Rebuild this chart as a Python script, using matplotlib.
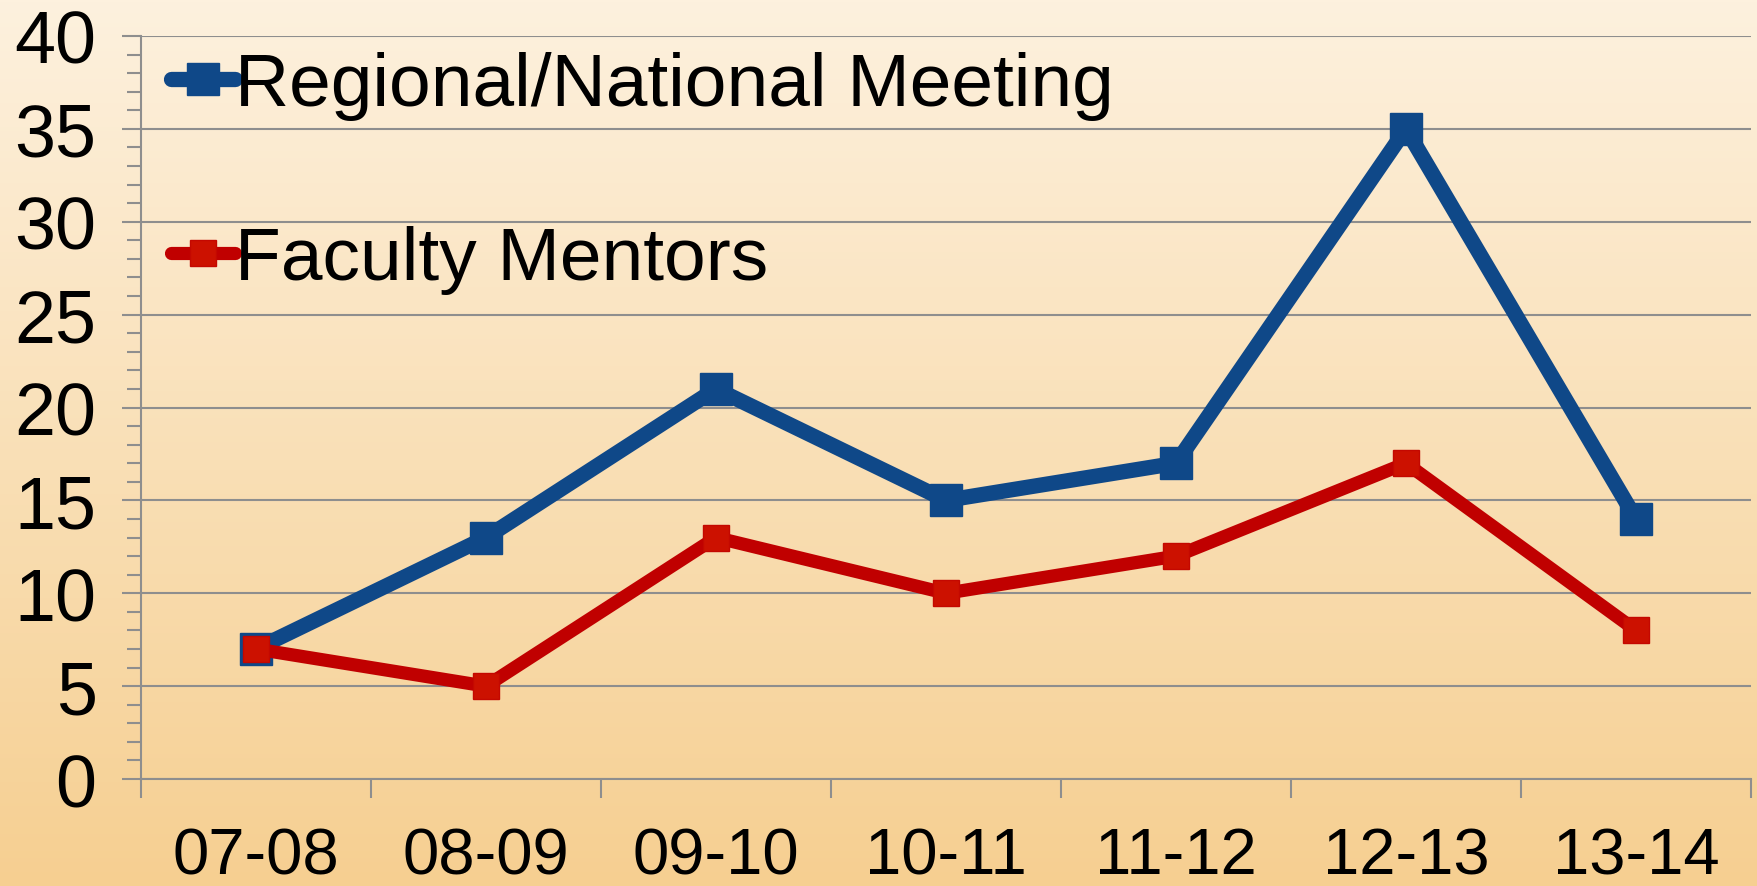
import numpy as np
import matplotlib
matplotlib.use("Agg")
import matplotlib.pyplot as plt
from matplotlib.ticker import MultipleLocator, FixedLocator

plt.rcParams['font.family'] = ['Liberation Sans', 'DejaVu Sans']

years = ["07-08", "08-09", "09-10", "10-11", "11-12", "12-13", "13-14"]
regional = [7, 13, 21, 15, 17, 35, 14]
mentors = [7, 5, 13, 10, 12, 17, 8]

blue = '#0F4888'
red_line = '#C00000'
red_mark = '#CC1100'
grid_c = '#8E8E8E'

fig = plt.figure(figsize=(17.58, 8.87), dpi=100)

# background gradient
bg = fig.add_axes([0, 0, 1, 1], zorder=-1)
top = np.array([253, 241, 222]) / 255
bot = np.array([246, 207, 145]) / 255
t = np.linspace(0, 1, 256)[:, None]
grad = top[None, :] * (1 - t) + bot[None, :] * t
bg.imshow(grad[:, None, :], aspect='auto', extent=[0, 1, 0, 1])
bg.axis('off')

ax = fig.add_axes([0.0802, 0.1206, 0.9158, 0.8377])
ax.patch.set_alpha(0)

x = np.arange(len(years))
ax.plot(x, regional, color=blue, lw=11, marker='s', ms=23, mfc=blue, mec=blue,
        label='Regional/National Meeting', zorder=3)
ax.plot(x, mentors, color=red_line, lw=9.5, marker='s', ms=19, mfc=red_mark, mec='#C40800',
        label='Faculty Mentors', zorder=4)

ax.set_xlim(-0.5, len(years) - 0.5)
ax.set_ylim(0, 40)
ax.yaxis.set_major_locator(MultipleLocator(5))
ax.yaxis.set_minor_locator(MultipleLocator(1))
ax.set_xticks(x)
ax.set_xticklabels(years)
ax.xaxis.set_minor_locator(FixedLocator(np.arange(-0.5, len(years), 1)))

ax.grid(axis='y', which='major', color=grid_c, lw=1.5, zorder=1)
for s in ['top', 'right']:
    ax.spines[s].set_visible(False)
for s in ['left', 'bottom']:
    ax.spines[s].set_color(grid_c)
    ax.spines[s].set_linewidth(1.5)

ax.tick_params(axis='y', which='major', length=14, width=1.5, color=grid_c,
               labelsize=53, pad=18)
ax.tick_params(axis='y', which='minor', length=10, width=1.5, color=grid_c)
ax.tick_params(axis='x', which='major', length=0, labelsize=47, pad=34)
ax.tick_params(axis='x', which='minor', length=14, width=1.5, color=grid_c)

leg = ax.legend(loc='upper left', bbox_to_anchor=(0.0, 1.02), frameon=False,
                fontsize=54, handlelength=0.85, handletextpad=0.0,
                labelspacing=1.4, borderaxespad=0)
for h in leg.get_lines():
    h.set_solid_capstyle('round')

fig.savefig('out.png', dpi=100)
